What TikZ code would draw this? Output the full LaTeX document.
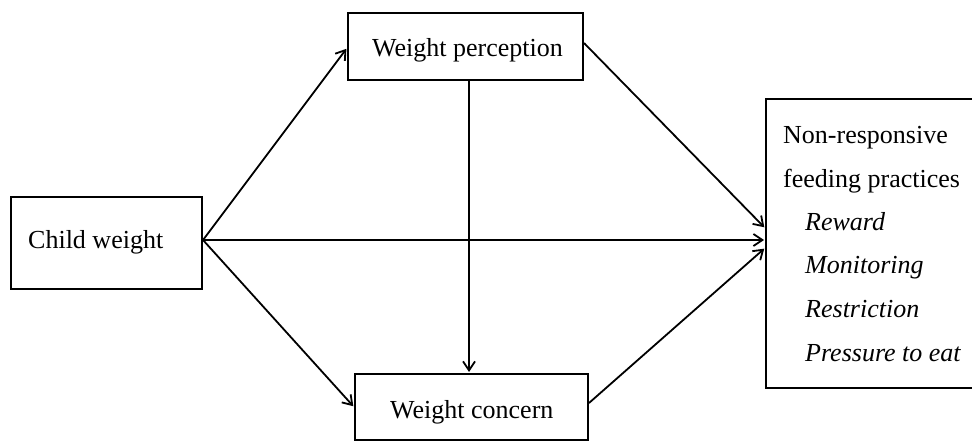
\documentclass[tikz,border=0pt]{standalone}
\usepackage{fontspec}
\setmainfont{Liberation Serif}
\usetikzlibrary{arrows.meta}
\begin{document}
\begin{tikzpicture}[x=1pt,y=-1pt,
  box/.style={draw, line width=2pt, rectangle, inner sep=0pt},
  txt/.style={anchor=base west, inner sep=0pt, font=\fontsize{26}{31}\selectfont},
  itxt/.style={txt, font=\fontsize{26}{31}\selectfont\itshape},
  conn/.style={line width=1.8pt, -{Straight Barb[length=9pt,width=12pt]}, shorten >=1pt}]
\useasboundingbox (0,0) rectangle (972,441);
\clip (0,0) rectangle (972,441);
% boxes
\node[box, minimum width=191pt, minimum height=92pt] (cw) at (106.5,243) {};
\node[box, minimum width=235pt, minimum height=67pt] (wp) at (465.5,46.5) {};
\node[box, minimum width=233pt, minimum height=66pt] (wc) at (471.5,407) {};
\node[box, minimum width=209pt, minimum height=289pt] (nr) at (870.5,243.5) {};
% texts
\node[txt] (tcw) at (28,248) {Child weight};
\node[txt] (twp) at (372,57) {Weight perception};
\node[txt] (twc) at (390,418) {Weight concern};
\node[txt] (tnr1) at (783,143) {Non-responsive};
\node[txt] (tnr2) at (783,187) {feeding practices};
\node[itxt] (t1) at (805,230) {Reward};
\node[itxt] (t2) at (805,273) {Monitoring};
\node[itxt] (t3) at (805,317) {Restriction};
\node[itxt] (t4) at (805,361) {Pressure to eat};
% connectors
\draw[conn] ([yshift=3pt]cw.east) -- ([yshift=-1.5pt]wp.west);
\draw[conn] ([yshift=3pt]cw.east) -- (wc.west);
\draw[conn] ([yshift=3pt]cw.east) -- ([yshift=3.5pt]nr.west);
\draw[conn] ([yshift=3.5pt]wp.east) -- ([yshift=15.5pt]nr.west);
\draw[conn] ([yshift=4pt]wc.east) -- ([yshift=-4.5pt]nr.west);
\draw[conn] ([xshift=3.5pt]wp.south) -- ([xshift=3.5pt]wp.south |- wc.north);
\end{tikzpicture}
\end{document}
